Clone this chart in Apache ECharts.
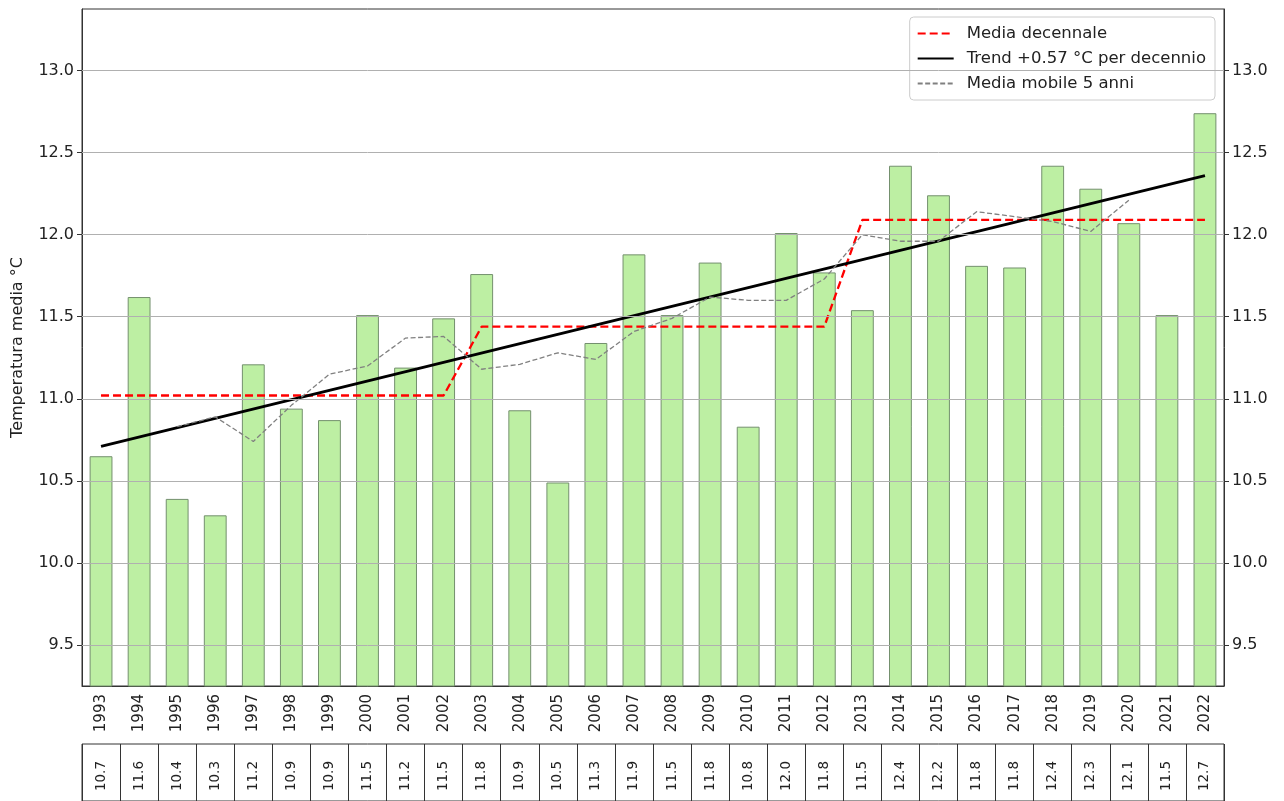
<!DOCTYPE html>
<html>
<head>
<meta charset="utf-8">
<title>Temperatura media annua 1993-2022</title>
<script src="https://cdn.jsdelivr.net/npm/echarts@6/dist/echarts.min.js"></script>
<style>
  html, body { margin: 0; padding: 0; background: #fff; }
  #chart { width: 1284px; height: 801px; }
</style>
</head>
<body>
<div id="chart"></div>
<script>
// anni
let anni = ["1993", "1994", "1995", "1996", "1997", "1998", "1999", "2000", "2001", "2002",
  "2003", "2004", "2005", "2006", "2007", "2008", "2009", "2010", "2011", "2012",
  "2013", "2014", "2015", "2016", "2017", "2018", "2019", "2020", "2021", "2022"];
let temperature = [10.65, 11.62, 10.39, 10.29, 11.21, 10.94, 10.87, 11.51, 11.19, 11.49,
  11.76, 10.93, 10.49, 11.34, 11.88, 11.51, 11.83, 10.83, 12.01, 11.77,
  11.54, 12.42, 12.24, 11.81, 11.80, 12.42, 12.28, 12.07, 11.51, 12.74];
// valori della tabella sotto il grafico
let valoriTabella = ["10.7", "11.6", "10.4", "10.3", "11.2", "10.9", "10.9", "11.5", "11.2", "11.5",
  "11.8", "10.9", "10.5", "11.3", "11.9", "11.5", "11.8", "10.8", "12.0", "11.8",
  "11.5", "12.4", "12.2", "11.8", "11.8", "12.4", "12.3", "12.1", "11.5", "12.7"];
// media decennale
let mediaDecennale = [11.02, 11.02, 11.02, 11.02, 11.02, 11.02, 11.02, 11.02, 11.02, 11.02,
  11.44, 11.44, 11.44, 11.44, 11.44, 11.44, 11.44, 11.44, 11.44, 11.44,
  12.09, 12.09, 12.09, 12.09, 12.09, 12.09, 12.09, 12.09, 12.09, 12.09];
// media mobile 5 anni (centrata)
let mediaMobile = [null, null, 10.83, 10.89, 10.74, 10.96, 11.15, 11.20, 11.37, 11.38,
  11.18, 11.21, 11.28, 11.24, 11.41, 11.49, 11.62, 11.60, 11.60, 11.73,
  12.00, 11.96, 11.96, 12.14, 12.11, 12.08, 12.02, 12.21, null, null];
// retta di tendenza: valore al primo e all'ultimo anno
let trend = [10.71, 12.36];
// tacche asse y
let yTicks = [9.5, 10.0, 10.5, 11.0, 11.5, 12.0, 12.5, 13.0];

let myChart = echarts.init(document.getElementById("chart"));

let testo = "#222";
let font = "DejaVu Sans";

let yLabel = {
  customValues: yTicks,
  fontSize: 16,
  color: testo,
  margin: 8,
  formatter: function (v) {
    return Math.abs(v * 2 - Math.round(v * 2)) < 1e-6 ? v.toFixed(1) : "";
  },
};

let option = {
  animation: false,
  textStyle: { fontFamily: font },
  legend: {
    data: ["Media decennale", "Trend +0.57 °C per decennio", "Media mobile 5 anni"],
    orient: "vertical",
    right: 69,
    top: 17,
    itemWidth: 36,
    itemHeight: 16,
    itemGap: 8,
    padding: [8, 9, 8, 7],
    backgroundColor: "rgba(255,255,255,0.85)",
    borderColor: "#cccccc",
    borderWidth: 1,
    borderRadius: 4,
    // solo la linea, senza il simbolo
    itemStyle: { opacity: 0 },
    textStyle: { fontSize: 16.5, color: testo, padding: [0, 0, 0, 8] },
  },
  grid: [
    { left: 82, right: 60, top: 9, bottom: 115, show: true, borderColor: "#333", borderWidth: 1 },
    // tabella dei valori
    { left: 82, right: 60, top: 744, height: 64, show: true, borderColor: "#333", borderWidth: 1 },
  ],
  xAxis: [
    {
      type: "category",
      gridIndex: 0,
      data: anni,
      axisLine: { lineStyle: { color: "#333" } },
      axisTick: { alignWithLabel: true, length: 5, lineStyle: { color: "#333" } },
      axisLabel: { rotate: 90, interval: 0, fontSize: 15, color: testo, margin: 8 },
      splitLine: { show: false },
    },
    {
      type: "category",
      gridIndex: 1,
      position: "top",
      data: anni,
      axisLine: { show: false },
      axisTick: { show: false },
      splitLine: { show: true, interval: 0, lineStyle: { color: "#333", width: 1 } },
      axisLabel: {
        inside: true,
        rotate: 90,
        interval: 0,
        margin: 17,
        fontSize: 13.5,
        color: testo,
        formatter: function (v, i) {
          return valoriTabella[i];
        },
      },
    },
  ],
  yAxis: [
    {
      type: "value",
      gridIndex: 0,
      min: 9.25,
      max: 13.375,
      interval: 0.25,
      name: "Temperatura media °C",
      nameLocation: "middle",
      nameGap: 56,
      nameTextStyle: { fontSize: 16, color: testo },
      axisLine: { show: true, lineStyle: { color: "#333" } },
      axisTick: { show: true, length: 5, customValues: yTicks, lineStyle: { color: "#333" } },
      axisLabel: yLabel,
      splitLine: { show: false },
    },
    {
      type: "value",
      gridIndex: 0,
      position: "right",
      min: 9.25,
      max: 13.375,
      interval: 0.25,
      axisLine: { show: true, lineStyle: { color: "#333" } },
      axisTick: { show: true, length: 5, customValues: yTicks, lineStyle: { color: "#333" } },
      axisLabel: yLabel,
      splitLine: { show: false },
    },
    { type: "value", gridIndex: 1, show: false, min: 0, max: 1 },
  ],
  series: [
    {
      name: "Temperatura",
      type: "bar",
      xAxisIndex: 0,
      yAxisIndex: 0,
      data: temperature,
      barWidth: "60%",
      itemStyle: { color: "#bdefa3", borderColor: "#74906e", borderWidth: 1 },
      // griglia orizzontale sopra le barre, come nell'originale
      markLine: {
        silent: true,
        symbol: "none",
        animation: false,
        label: { show: false },
        lineStyle: { color: "#b0b0b0", width: 1, type: "solid" },
        data: yTicks.map(v => ({ yAxis: v })),
      },
    },
    {
      name: "Media decennale",
      type: "line",
      data: mediaDecennale,
      symbol: "none",
      itemStyle: { color: "#ff0000" },
      lineStyle: { color: "#ff0000", width: 2.3, type: [8, 4] },
    },
    {
      name: "Trend +0.57 °C per decennio",
      type: "line",
      data: [[anni[0], trend[0]], [anni[anni.length - 1], trend[1]]],
      symbol: "none",
      itemStyle: { color: "#000" },
      lineStyle: { color: "#000", width: 3 },
    },
    {
      name: "Media mobile 5 anni",
      type: "line",
      data: mediaMobile,
      symbol: "none",
      itemStyle: { color: "#808080" },
      lineStyle: { color: "#808080", width: 1.3, type: [5, 2.5] },
    },
  ],
};

myChart.setOption(option);
</script>
</body>
</html>
